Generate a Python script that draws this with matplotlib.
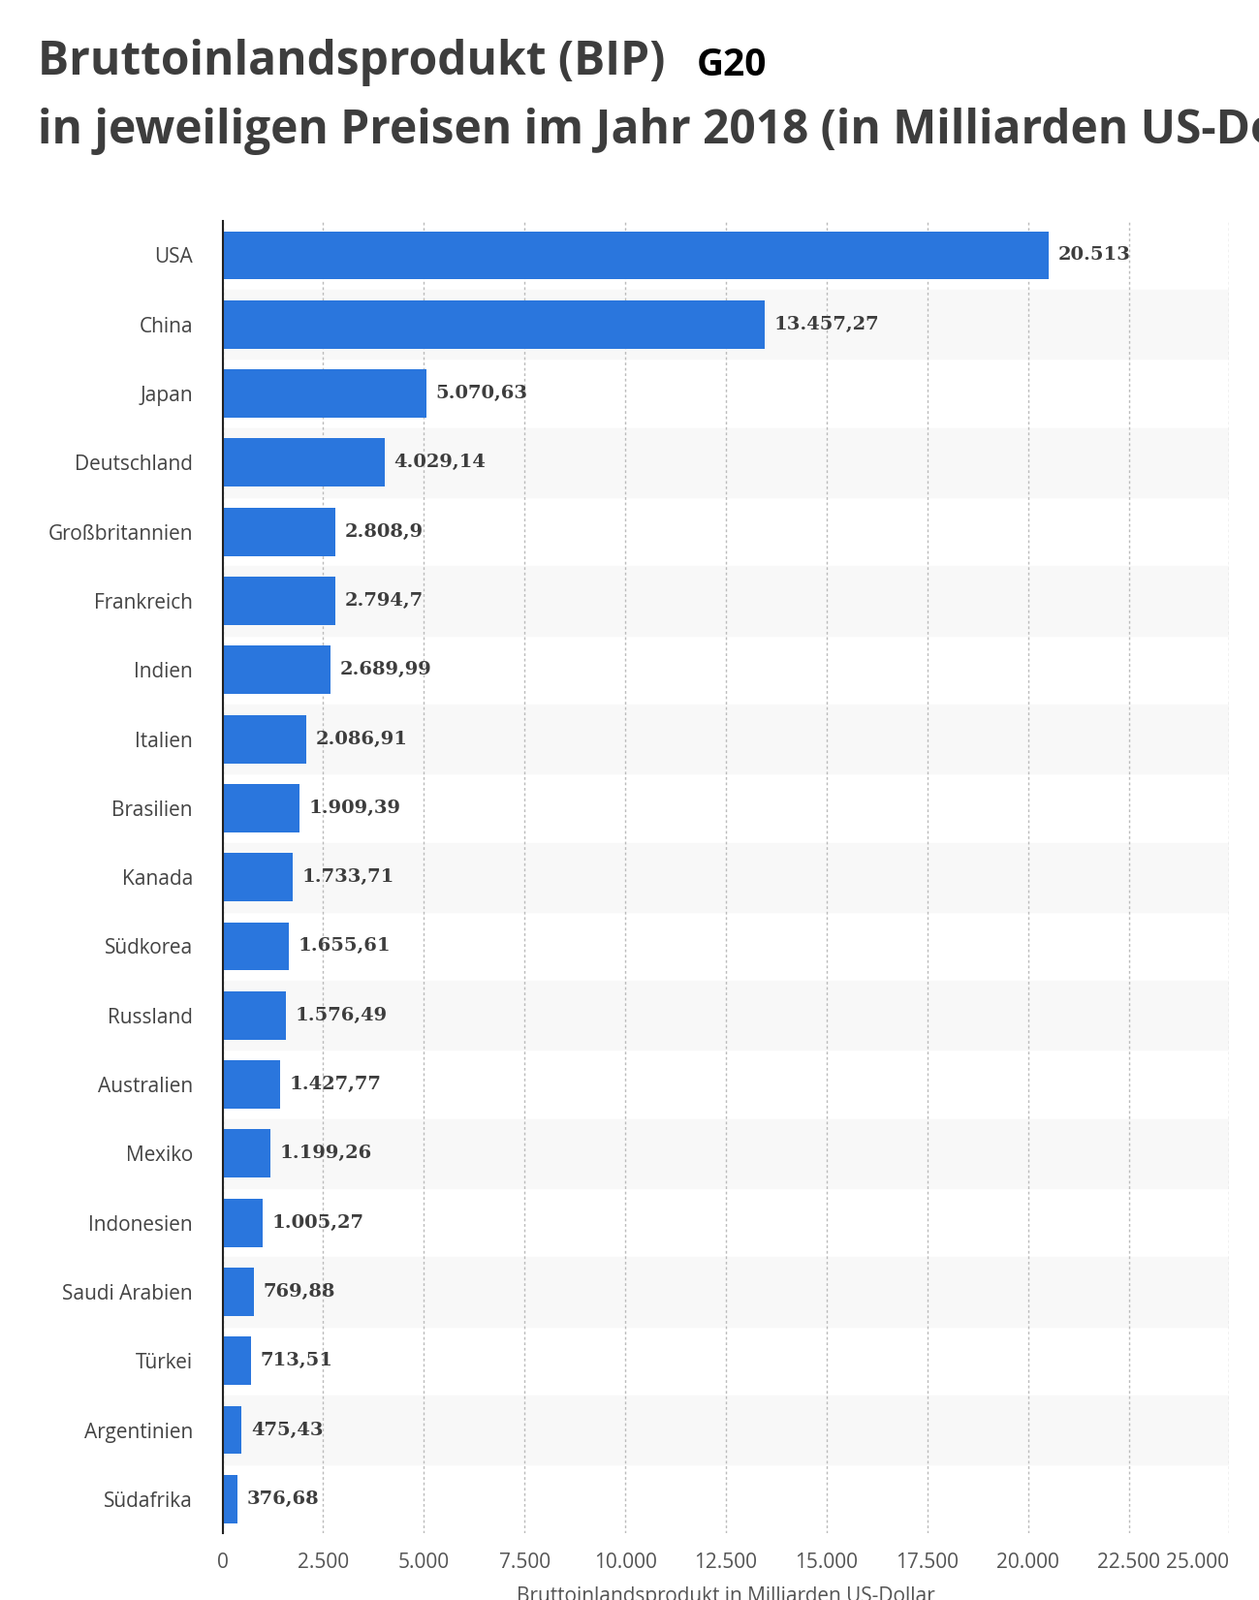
import matplotlib.pyplot as plt
import numpy as np

countries = ["USA", "China", "Japan", "Deutschland", "Großbritannien", "Frankreich",
             "Indien", "Italien", "Brasilien", "Kanada", "Südkorea", "Russland",
             "Australien", "Mexiko", "Indonesien", "Saudi Arabien", "Türkei",
             "Argentinien", "Südafrika"]
gdp = [20513, 13457.27, 5070.63, 4029.14, 2808.9, 2794.7, 2689.99, 2086.91,
       1909.39, 1733.71, 1655.61, 1576.49, 1427.77, 1199.26, 1005.27, 769.88,
       713.51, 475.43, 376.68]
xticks = [0, 2500, 5000, 7500, 10000, 12500, 15000, 17500, 20000, 22500, 25000]


def de(v, dec=2):
    s = f"{v:,.{dec}f}"
    if dec > 0:
        s = s.rstrip("0").rstrip(".")
    return s.replace(",", "X").replace(".", ",").replace("X", ".")


plt.rcParams["font.family"] = "Open Sans"
fig = plt.figure(figsize=(12.99, 16.51), dpi=100)
ax = fig.add_axes([0.1767, 0.0415, 0.7998, 0.8205])

n = len(countries)
y = np.arange(n)
for i in y:
    if i % 2 == 1:
        ax.axhspan(i - 0.5, i + 0.5, color="#f8f8f8", zorder=0)
ax.barh(y, gdp, height=0.7, color="#2a76dd", zorder=3)
for yi, v in zip(y, gdp):
    ax.text(v + 230, yi, de(v), va="center", ha="left", fontsize=14,
            fontweight="bold", color="#3d3d3d", family="DejaVu Serif", zorder=4)

ax.set_ylim(n - 0.5, -0.5)
ax.set_xlim(0, 25000)
ax.set_yticks(y)
ax.set_yticklabels(countries, fontsize=15, color="#444444")
ax.set_xticks(xticks)
ax.set_xticklabels([de(t, 0) for t in xticks], fontsize=15, color="#555555")
ax.get_xticklabels()[-1].set_horizontalalignment("right")
ax.get_xticklabels()[-1].set_x(25300)
ax.tick_params(axis="y", length=0, pad=22)
ax.tick_params(axis="x", length=0, pad=14)
ax.grid(axis="x", color="#bbbbbb", linestyle=(0, (2, 2)), linewidth=1, zorder=1)
for s in ["top", "right", "bottom"]:
    ax.spines[s].set_visible(False)
ax.spines["left"].set_color("#222222")
ax.spines["left"].set_linewidth(1.5)
ax.spines["left"].set_zorder(5)
ax.set_xlabel("Bruttoinlandsprodukt in Milliarden US-Dollar", fontsize=15,
              color="#555555", labelpad=10)

fig.text(0.03, 0.961, "Bruttoinlandsprodukt (BIP)", fontsize=34.5, fontweight="bold",
         color="#3d3d3d", va="center")
fig.text(0.553, 0.959, "G20", fontsize=28, fontweight="bold", color="black", va="center")
fig.text(0.03, 0.918, "in jeweiligen Preisen im Jahr 2018 (in Milliarden US-Dollar)",
         fontsize=34.5, fontweight="bold", color="#3d3d3d", va="center")

fig.savefig("out.png", dpi=100)
